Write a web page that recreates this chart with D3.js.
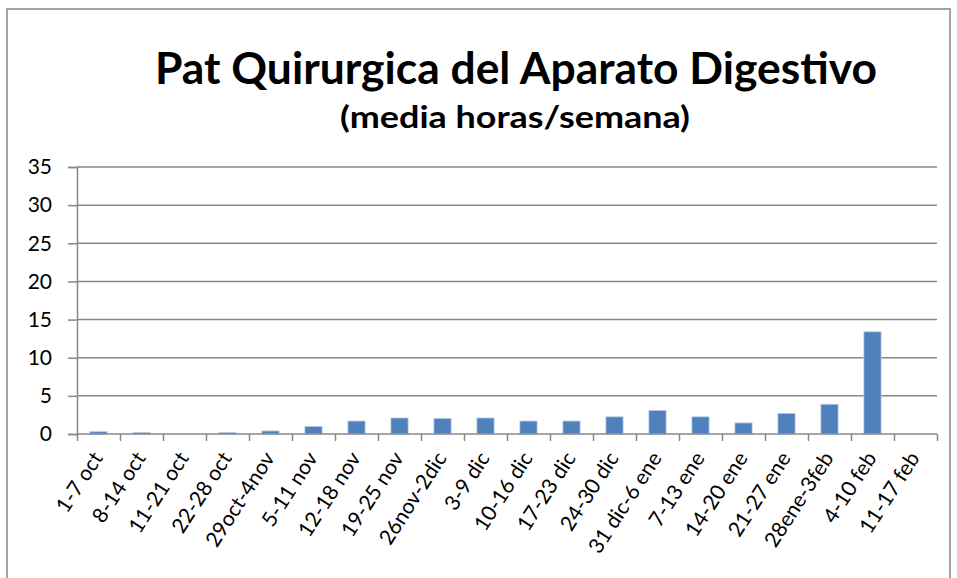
<!DOCTYPE html>
<html>
<head>
<meta charset="utf-8">
<script src="https://cdn.jsdelivr.net/npm/d3@7/dist/d3.min.js"></script>
<style>
  html, body { margin: 0; padding: 0; background: #fff; }
  svg { display: block; }
  text { font-family: Lato, "Open Sans", "Liberation Sans", sans-serif; fill: #000; }
</style>
</head>
<body>
<svg id="chart" width="957" height="578"></svg>
<script>
// Weekly categories (x axis)
const weeks = [
  "1-7 oct", "8-14 oct", "11-21 oct", "22-28 oct", "29oct-4nov",
  "5-11 nov", "12-18 nov", "19-25 nov", "26nov-2dic", "3-9 dic",
  "10-16 dic", "17-23 dic", "24-30 dic", "31 dic-6 ene", "7-13 ene",
  "14-20 ene", "21-27 ene", "28ene-3feb", "4-10 feb", "11-17 feb"
];
// Mean hours per week
const hours = [
  0.3, 0.2, 0, 0.2, 0.4,
  1.0, 1.7, 2.1, 2.05, 2.1,
  1.7, 1.7, 2.25, 3.1, 2.25,
  1.45, 2.7, 3.9, 13.4, 0
];
// Y axis ticks
const yTicks = [0, 5, 10, 15, 20, 25, 30, 35];

const title = "Pat Quirurgica del Aparato Digestivo";
const subtitle = "(media horas/semana)";

const svg = d3.select("#chart");
const plot = { left: 77, right: 937, top: 167, bottom: 434 };
const gridColor = "#878787";

// Outer chart frame
svg.append("rect")
  .attr("x", 7).attr("y", 9)
  .attr("width", 943).attr("height", 600)
  .attr("fill", "none").attr("stroke", gridColor).attr("stroke-width", 1.5);

svg.append("text")
  .attr("x", 155).attr("y", 84)
  .attr("font-size", 43).attr("font-weight", "bold")
  .attr("textLength", 722).attr("lengthAdjust", "spacingAndGlyphs")
  .text(title);

svg.append("text")
  .attr("x", 340).attr("y", 128)
  .attr("font-size", 31).attr("font-weight", "bold")
  .attr("textLength", 350).attr("lengthAdjust", "spacingAndGlyphs")
  .text(subtitle);

const x = d3.scaleBand()
  .domain(weeks)
  .range([plot.left, plot.right])
  .paddingInner(0.6).paddingOuter(0.3);

const xEdge = d3.scaleLinear().domain([0, weeks.length]).range([plot.left, plot.right]);

const y = d3.scaleLinear().domain([0, 35]).range([plot.bottom, plot.top]);

// Horizontal gridlines
svg.append("g")
  .selectAll("line")
  .data(yTicks.filter(d => d > 0))
  .join("line")
  .attr("x1", plot.left).attr("x2", plot.right)
  .attr("y1", d => y(d)).attr("y2", d => y(d))
  .attr("stroke", gridColor).attr("stroke-width", 1.5);

// Y axis
const yAxis = svg.append("g")
  .attr("transform", `translate(${plot.left},0)`)
  .call(d3.axisLeft(y).tickValues(yTicks).tickSize(9).tickPadding(16));
yAxis.select(".domain").attr("stroke", gridColor).attr("stroke-width", 1.5);
yAxis.selectAll(".tick line").attr("stroke", gridColor).attr("stroke-width", 1.5);
yAxis.selectAll(".tick text")
  .attr("font-size", 21)
  .style("font-family", "Lato, 'Open Sans', sans-serif")
  .attr("fill", "#000");

// Bars
svg.append("g")
  .selectAll("rect")
  .data(hours)
  .join("rect")
  .attr("x", (d, i) => x(weeks[i]))
  .attr("width", x.bandwidth())
  .attr("y", d => y(d))
  .attr("height", d => y(0) - y(d))
  .attr("fill", "#4F81BD")
  .attr("stroke", d => d > 0 ? "#BCCDE3" : "none")
  .attr("stroke-width", 0.8);

// X axis baseline and tick marks at category boundaries
const xAxis = svg.append("g")
  .attr("transform", `translate(0,${plot.bottom})`)
  .call(d3.axisBottom(xEdge).tickValues(d3.range(weeks.length + 1)).tickSize(7).tickFormat(""));
xAxis.select(".domain").attr("stroke", gridColor).attr("stroke-width", 1.5)
  .attr("d", `M${plot.left},0H${plot.right}`);
xAxis.selectAll(".tick line").attr("stroke", gridColor).attr("stroke-width", 1.5);

// Rotated category labels
const labels = svg.append("g")
  .selectAll("g")
  .data(weeks)
  .join("g")
  .attr("transform", d => `translate(${x(d) + x.bandwidth() / 2 + 5},${plot.bottom + 24})`);
labels.append("text")
  .attr("transform", "rotate(-57)")
  .attr("text-anchor", "end")
  .attr("font-size", 21)
  .text(d => d);
</script>
</body>
</html>
